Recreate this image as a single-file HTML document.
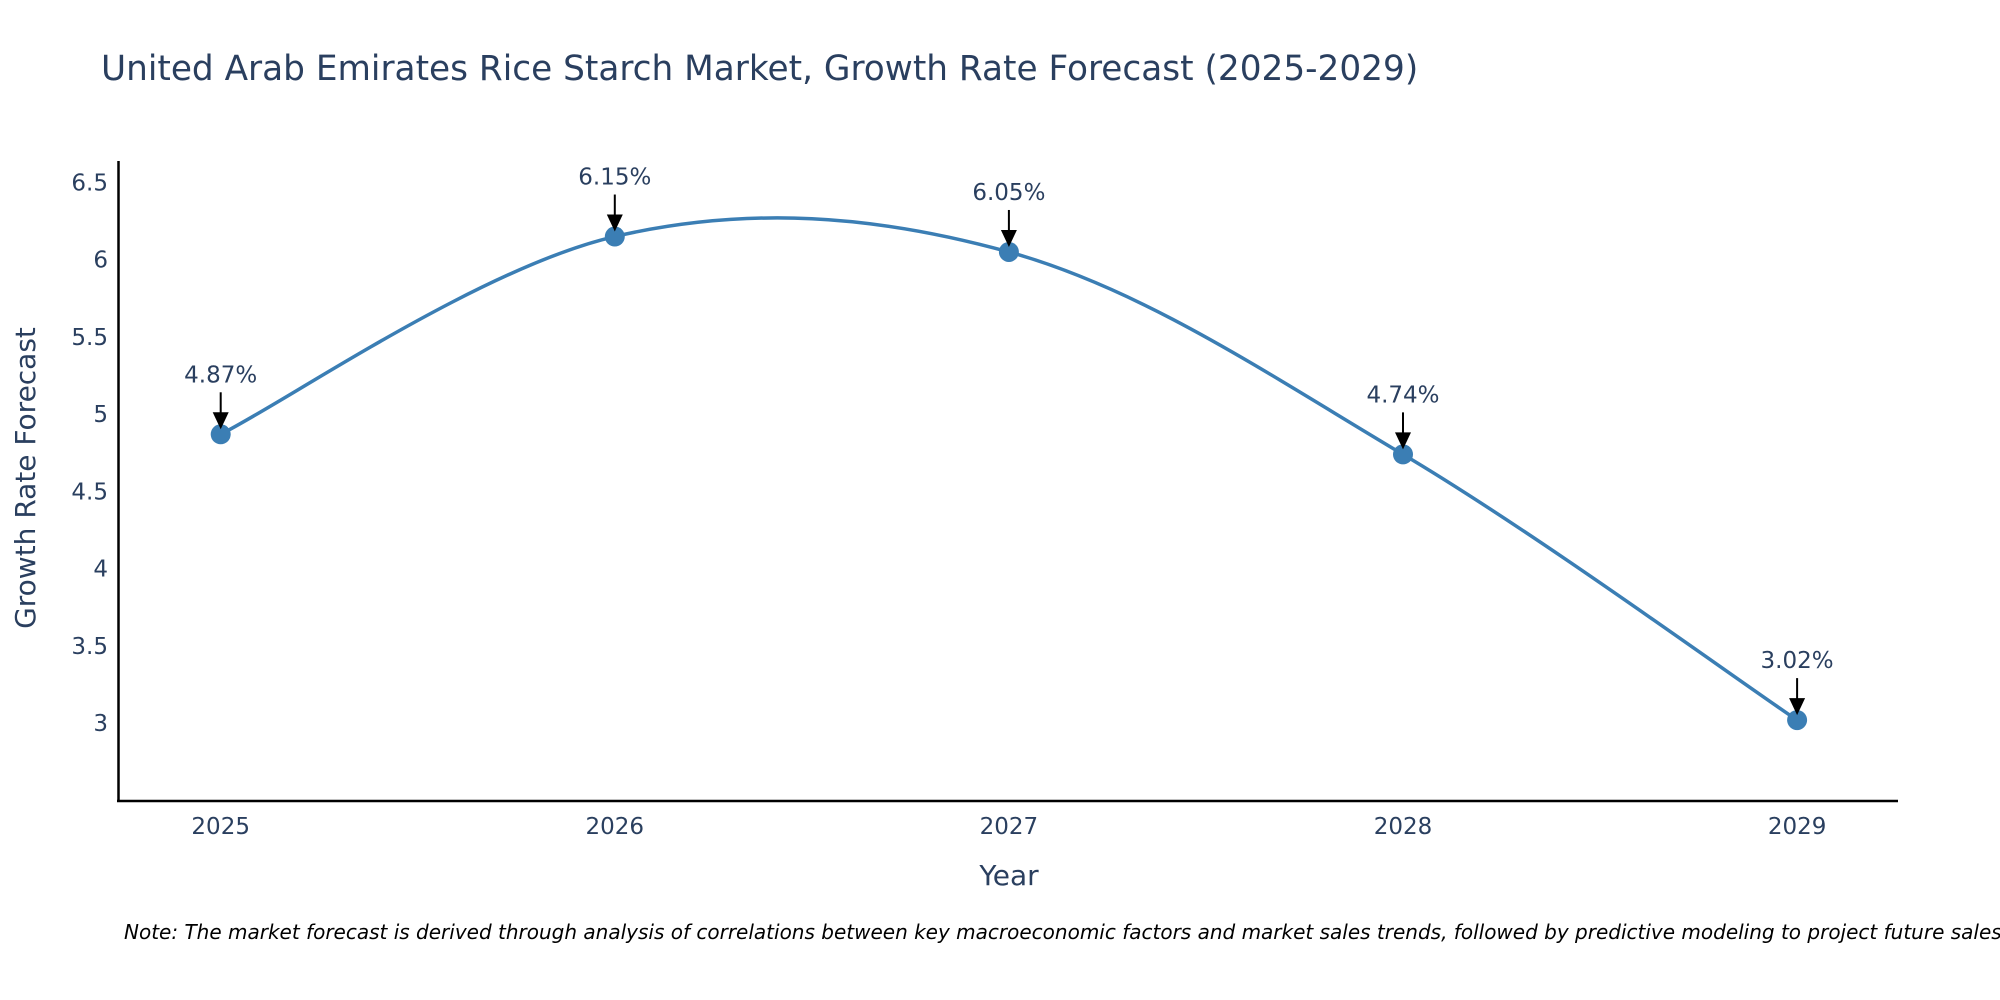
<!DOCTYPE html>
<html><head><meta charset="utf-8"><style>
body{margin:0;background:#fff;}
svg{display:block;font-family:"DejaVu Sans","Liberation Sans",sans-serif;}
</style></head><body>
<svg id="chart" width="2000" height="1000" viewBox="0 0 2000 1000">
<text x="101" y="80" font-size="34.3" fill="#2a3f5f">United Arab Emirates Rice Starch Market, Growth Rate Forecast (2025-2029)</text>
<g id="yticks"></g><g id="xticks"></g>
<line x1="118.5" y1="161" x2="118.5" y2="802" stroke="#000" stroke-width="2.5"/>
<line x1="117" y1="801" x2="1898" y2="801" stroke="#000" stroke-width="2.5"/>
<path id="line" fill="none" stroke="#3b7eb4" stroke-width="3.5"/>
<g id="marks"></g>
<text x="1009" y="885" font-size="28" fill="#2a3f5f" text-anchor="middle">Year</text>
<text transform="translate(35,478) rotate(-90)" font-size="28" fill="#2a3f5f" text-anchor="middle">Growth Rate Forecast</text>
<text x="124" y="939" font-size="20" font-style="italic" fill="#000">Note: The market forecast is derived through analysis of correlations between key macroeconomic factors and market sales trends, followed by predictive modeling to project future sales.</text>
</svg>
<script>
const years=[2025,2026,2027,2028,2029];
const values=[4.87,6.15,6.05,4.74,3.02];
const labels=["4.87%","6.15%","6.05%","4.74%","3.02%"];
const yTicks=[3,3.5,4,4.5,5,5.5,6,6.5];
const NS="http://www.w3.org/2000/svg";
function X(v){return 220.7+(v-2025)*394.1;}
function Y(v){return 723.2-(v-3)*154.5;}
function mk(t,a,p){const e=document.createElementNS(NS,t);for(const k in a)e.setAttribute(k,a[k]);if(p)p.appendChild(e);return e;}
const yt=document.getElementById('yticks');
yTicks.forEach(t=>{const e=mk('text',{x:108,y:Y(t)+8,'font-size':23,fill:'#2a3f5f','text-anchor':'end'},yt);e.textContent=String(t);

});
const xt=document.getElementById('xticks');
years.forEach(y=>{const e=mk('text',{x:X(y),y:834,'font-size':23,fill:'#2a3f5f','text-anchor':'middle'},xt);e.textContent=String(y);

});
const pts=years.map((y,i)=>[X(y),Y(values[i])]);
let d=`M${pts[0][0]},${pts[0][1]}`;const s=0.17;
for(let i=0;i<pts.length-1;i++){const p0=pts[i-1]||pts[i],p1=pts[i],p2=pts[i+1],p3=pts[i+2]||p2;
d+=` C${p1[0]+(p2[0]-p0[0])*s},${p1[1]+(p2[1]-p0[1])*s} ${p2[0]-(p3[0]-p1[0])*s},${p2[1]-(p3[1]-p1[1])*s} ${p2[0]},${p2[1]}`;}
document.getElementById('line').setAttribute('d',d);
const mg=document.getElementById('marks');
pts.forEach((p,i)=>{
const c=mk('circle',{cx:p[0],cy:p[1],r:10,fill:'#3b7eb4'},mg);


const l=mk('line',{x1:p[0],y1:p[1]-42,x2:p[0],y2:p[1]-18,stroke:'#000','stroke-width':2},mg);


const h=mk('polygon',{points:`${p[0]-8},${p[1]-22} ${p[0]+8},${p[1]-22} ${p[0]},${p[1]-5}`,fill:'#000'},mg);


const t=mk('text',{x:p[0],y:p[1]-52,'font-size':23,fill:'#2a3f5f','text-anchor':'middle'},mg);t.textContent=labels[i];


});
</script>
</body></html>
